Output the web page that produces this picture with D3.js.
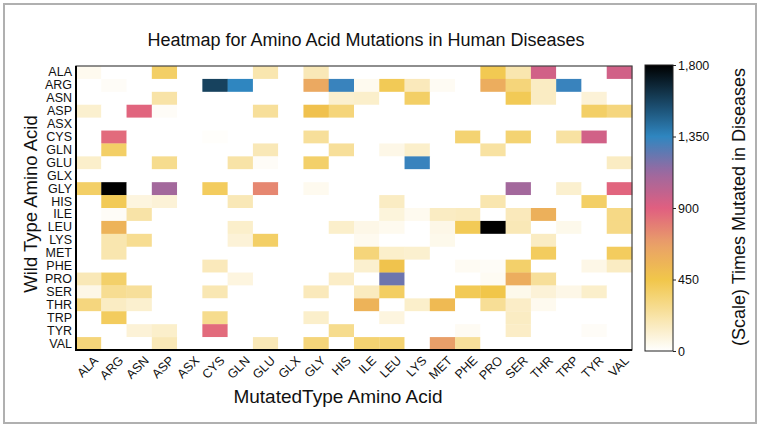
<!DOCTYPE html>
<html>
<head>
<meta charset="utf-8">
<script src="https://cdn.jsdelivr.net/npm/d3@7"></script>
<style>
  html, body { margin: 0; padding: 0; background: #fff; }
  svg { display: block; font-family: "Liberation Sans", Arial, sans-serif; }
</style>
</head>
<body>
<svg id="chart" width="762" height="429"></svg>
<script>
// ---- data ----
const wildTypes = ["ALA","ARG","ASN","ASP","ASX","CYS","GLN","GLU","GLX","GLY","HIS","ILE","LEU","LYS","MET","PHE","PRO","SER","THR","TRP","TYR","VAL"];
const mutatedTypes = ["ALA","ARG","ASN","ASP","ASX","CYS","GLN","GLU","GLX","GLY","HIS","ILE","LEU","LYS","MET","PHE","PRO","SER","THR","TRP","TYR","VAL"];
// rows = wild type, columns = mutated type
const counts = [
  [40,0,0,380,0,0,0,200,0,180,0,0,0,0,0,0,430,200,950,0,0,950],        // ALA
  [0,20,0,0,0,1580,1350,0,0,620,1330,40,420,170,30,0,600,330,150,1330,0,0], // ARG
  [0,0,0,220,0,0,0,0,0,0,120,130,0,380,0,0,0,420,150,0,100,0],         // ASN
  [120,0,880,20,0,0,0,250,0,480,330,0,0,0,0,0,0,0,0,0,380,320],        // ASP
  [0,0,0,0,0,0,0,0,0,0,0,0,0,0,0,0,0,0,0,0,0,0],                      // ASX
  [0,860,0,0,0,10,0,0,0,250,0,0,0,0,0,350,0,350,0,230,950,0],          // CYS
  [0,380,0,0,0,0,0,180,0,0,250,0,60,130,0,0,230,0,0,0,0,0],            // GLN
  [130,0,0,280,0,0,220,20,0,370,0,0,0,1330,0,0,0,0,0,0,0,150],         // GLU
  [0,0,0,0,0,0,0,0,0,0,0,0,0,0,0,0,0,0,0,0,0,0],                      // GLX
  [380,1800,0,1100,0,400,0,760,0,40,0,0,0,0,0,0,0,1100,0,120,0,880],   // GLY
  [0,420,80,100,0,0,180,0,0,0,0,0,150,0,0,0,200,0,0,0,380,0],          // HIS
  [0,20,220,0,0,0,0,0,0,0,0,0,90,40,150,160,0,170,580,0,0,300],        // ILE
  [0,560,0,0,0,0,130,0,0,0,130,60,40,0,60,420,1800,180,0,50,0,300],    // LEU
  [0,200,270,0,0,0,100,380,0,0,0,40,0,0,50,0,0,0,150,0,0,0],           // LYS
  [0,200,0,0,0,0,0,0,0,0,0,330,130,120,0,0,0,0,400,0,0,400],           // MET
  [0,0,0,0,0,170,0,0,0,0,0,120,470,0,0,30,20,370,0,0,60,150],          // PHE
  [180,370,0,0,0,0,80,0,0,0,140,0,1220,0,0,0,30,600,250,0,0,0],        // PRO
  [60,270,250,0,0,190,0,0,0,170,0,160,390,0,0,420,450,50,100,60,130,0],// SER
  [320,150,120,0,0,0,0,0,0,0,0,560,0,130,520,0,260,140,40,0,0,0],      // THR
  [0,400,0,0,0,280,0,0,0,130,0,0,80,0,0,0,0,150,0,0,0,0],              // TRP
  [0,0,100,130,0,860,0,0,0,0,280,0,0,0,0,30,0,140,0,0,20,0],           // TYR
  [330,0,0,180,0,0,0,180,0,330,0,350,350,0,680,250,0,0,0,0,0,0]        // VAL
];
const colorStops = [0, 450, 675, 900, 1125, 1350, 1800];
const colorRange = ["#ffffff", "#f1c64a", "#e9a068", "#e05f80", "#9b69a0", "#2f86c0", "#000000"];
const colorbarTicks = [0, 450, 900, 1350, 1800];

const titleText = "Heatmap for Amino Acid Mutations in Human Diseases";
const xTitle = "MutatedType Amino Acid";
const yTitle = "Wild Type Amino Acid";
const cbTitle = "(Scale) Times Mutated in Diseases";

// ---- layout ----
const svg = d3.select("#chart");
const m = { left: 76, top: 66, right: 632, bottom: 350 };

svg.append("rect").attr("x", 4).attr("y", 4).attr("width", 752).attr("height", 419)
  .attr("fill", "none").attr("stroke", "#b0b0b0").attr("stroke-width", 2);

const x = d3.scaleBand().domain(mutatedTypes).range([m.left, m.right]);
const y = d3.scaleBand().domain(wildTypes).range([m.top, m.bottom]);
const color = d3.scaleLinear().domain(colorStops).range(colorRange).clamp(true);

const cells = [];
wildTypes.forEach((w, i) => mutatedTypes.forEach((mt, j) => {
  cells.push({ w, mt, v: counts[i][j] });
}));

svg.append("g").selectAll("rect").data(cells).join("rect")
  .attr("x", d => x(d.mt))
  .attr("y", d => y(d.w))
  .attr("width", x.bandwidth() + 0.3)
  .attr("height", y.bandwidth() + 0.3)
  .attr("fill", d => color(d.v));

// frame
svg.append("rect").attr("x", m.left).attr("y", m.top)
  .attr("width", m.right - m.left).attr("height", m.bottom - m.top)
  .attr("fill", "none").attr("stroke", "#444").attr("stroke-width", 1.2);
svg.append("line").attr("x1", m.left).attr("x2", m.left).attr("y1", m.top).attr("y2", m.bottom + 1)
  .attr("stroke", "#000").attr("stroke-width", 2);
svg.append("line").attr("x1", m.left - 1).attr("x2", m.right).attr("y1", m.bottom).attr("y2", m.bottom)
  .attr("stroke", "#000").attr("stroke-width", 2);

// y axis
const yAxis = svg.append("g").attr("transform", `translate(${m.left},0)`)
  .call(d3.axisLeft(y).tickSize(0).tickPadding(4));
yAxis.select(".domain").remove();
yAxis.selectAll("text").attr("font-size", 12.5).attr("fill", "#111")
  .attr("font-family", "Liberation Sans, Arial, sans-serif");

// x axis
const xAxis = svg.append("g").attr("transform", `translate(0,${m.bottom})`)
  .call(d3.axisBottom(x).tickSize(0).tickPadding(0));
xAxis.select(".domain").remove();
xAxis.selectAll("text")
  .attr("font-size", 12.5).attr("fill", "#111")
  .attr("font-family", "Liberation Sans, Arial, sans-serif")
  .attr("text-anchor", "end")
  .attr("dy", 0)
  .attr("transform", "translate(8,9) rotate(-45)")
  .attr("y", 0).attr("x", 0).attr("dominant-baseline", "middle");

// titles
svg.append("text").attr("x", 366).attr("y", 46).attr("text-anchor", "middle")
  .attr("font-size", 18).attr("fill", "#111").text(titleText);
svg.append("text").attr("x", 338).attr("y", 403).attr("text-anchor", "middle")
  .attr("font-size", 19).attr("fill", "#111").text(xTitle);
svg.append("text").attr("transform", "translate(37,204) rotate(-90)").attr("text-anchor", "middle")
  .attr("font-size", 18.5).attr("fill", "#111").text(yTitle);

// colorbar
const cb = { x: 645, w: 28, top: 65, bottom: 351 };
const cbScale = d3.scaleLinear().domain([0, 1800]).range([cb.bottom, cb.top]);
const defs = svg.append("defs");
const grad = defs.append("linearGradient").attr("id", "cbgrad")
  .attr("x1", 0).attr("x2", 0).attr("y1", 1).attr("y2", 0);
d3.range(0, 1801, 50).forEach(v => {
  grad.append("stop").attr("offset", v / 1800).attr("stop-color", color(v));
});
svg.append("rect").attr("x", cb.x).attr("y", cb.top).attr("width", cb.w).attr("height", cb.bottom - cb.top)
  .attr("fill", "url(#cbgrad)").attr("stroke", "#222").attr("stroke-width", 1);
const cbAxis = svg.append("g").attr("transform", `translate(${cb.x + cb.w},0)`)
  .call(d3.axisRight(cbScale).tickValues(colorbarTicks).tickSize(3).tickPadding(2).tickFormat(d3.format(",")));
cbAxis.select(".domain").remove();
cbAxis.selectAll("line").attr("stroke", "#222");
cbAxis.selectAll("text").attr("font-size", 12.5).attr("fill", "#111")
  .attr("font-family", "Liberation Sans, Arial, sans-serif");

svg.append("text").attr("transform", "translate(745,207) rotate(-90)").attr("text-anchor", "middle")
  .attr("font-size", 18).attr("fill", "#111").text(cbTitle);
</script>
</body>
</html>
